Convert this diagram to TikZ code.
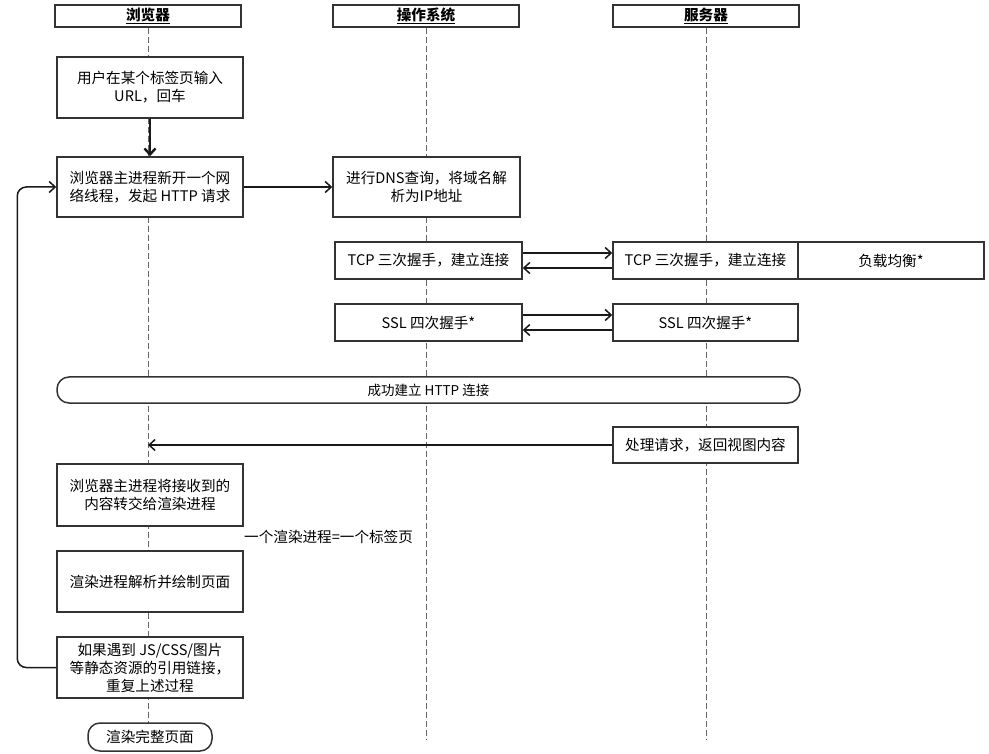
\documentclass[tikz,border=0pt]{standalone}
\usepackage{fontspec}
\setmainfont{Noto Sans CJK SC}
\usetikzlibrary{arrows.meta}
\newcommand\fsz{\fontsize{14.6}{18}\selectfont}
\begin{document}
\begin{tikzpicture}[x=1pt,y=-1pt,
  box/.style={draw=black!80, line width=1.5pt, fill=white, align=center, inner sep=2pt, font=\fsz, minimum width=186pt},
  headbox/.style={draw=black!80, line width=1.2pt, fill=white, align=center, inner sep=1pt, font=\fsz\bfseries, minimum width=186pt, minimum height=22pt},
  pill/.style={box, rounded corners=12pt},
  arr/.style={line width=1.5pt, draw=black!90, -{Straight Barb[length=6pt,width=11pt]}},
  life/.style={draw=black!60, line width=0.8pt, dash pattern=on 6pt off 3pt},
  lbl/.style={font=\fsz, inner sep=1pt}]
\useasboundingbox (0,0) rectangle (989,754);
% headers
\node[headbox] (hB) at (148,16) {\underline{浏览器}};
\node[headbox] (hO) at (426,16) {\underline{操作系统}};
\node[headbox] (hS) at (706,16) {\underline{服务器}};
% lifelines
\coordinate (eB) at (148,724);
\coordinate (eO) at (426,740);
\coordinate (eS) at (706,740);
\draw[life] (hB.south) -- (eB);
\draw[life] (hO.south) -- (eO);
\draw[life] (hS.south) -- (eS);
% browser column
\node[box, minimum height=61pt] (b1) at (150,87.5) {用户在某个标签页输入\\URL，回车};
\node[box, minimum height=60pt] (b2) at (150,187) {浏览器主进程新开一个网\\络线程，发起 HTTP 请求};
\node[box, minimum height=62pt] (b3) at (150,495) {浏览器主进程将接收到的\\内容转交给渲染进程};
\node[box, minimum height=61pt] (b4) at (150,581.5) {渲染进程解析并绘制页面};
\node[box, minimum height=61pt] (b5) at (150,667.5) {如果遇到 JS/CSS/图片\\等静态资源的引用链接，\\重复上述过程};
\node[pill, minimum width=124pt, minimum height=28pt] (end) at (150,737) {渲染完整页面};
% OS column
\node[box, minimum width=187pt, minimum height=60pt] (o1) at (426.5,187) {进行DNS查询，将域名解\\析为IP地址};
\node[box, minimum width=187pt, minimum height=37pt] (o2) at (428.5,260.5) {TCP 三次握手，建立连接};
\node[box, minimum width=187pt, minimum height=37pt] (o3) at (428.5,322.5) {SSL 四次握手*};
% server column
\node[box, minimum width=185pt, minimum height=37pt] (s2) at (705.5,260.5) {TCP 三次握手，建立连接};
\node[box, minimum width=186pt, minimum height=37pt] (lb) at (891,260.5) {负载均衡*};
\node[box, minimum width=185pt, minimum height=37pt] (s3) at (705.5,322.5) {SSL 四次握手*};
\node[box, minimum width=185pt, minimum height=36pt] (s4) at (705.5,445) {处理请求，返回视图内容};
% connection pill
\node[pill, minimum width=743pt, minimum height=26pt, font=\fontsize{13.5}{16}\selectfont] (http) at (428.5,390) {成功建立 HTTP 连接};
% label
\node[lbl, anchor=west] (note) at (243,537) {一个渲染进程=一个标签页};
% arrows
\draw[arr, line width=2.4pt] (b1.south) -- (b2.north);
\draw[arr] (b2.east) -- (o1.west);
\draw[arr] ([yshift=7.5pt]o2.east) -- ([yshift=7.5pt]s2.west);
\draw[arr] ([yshift=-7.5pt]s2.west) -- ([yshift=-7.5pt]o2.east);
\draw[arr] ([yshift=7.5pt]o3.east) -- ([yshift=7.5pt]s3.west);
\draw[arr] ([yshift=-7.5pt]s3.west) -- ([yshift=-7.5pt]o3.east);
\coordinate (rB) at (148,445);
\draw[arr] (s4.west) -- (rB);
\draw[arr, rounded corners=9pt] (b5.west) -- ++(-39,0) |- (b2.west);
\end{tikzpicture}
\end{document}
